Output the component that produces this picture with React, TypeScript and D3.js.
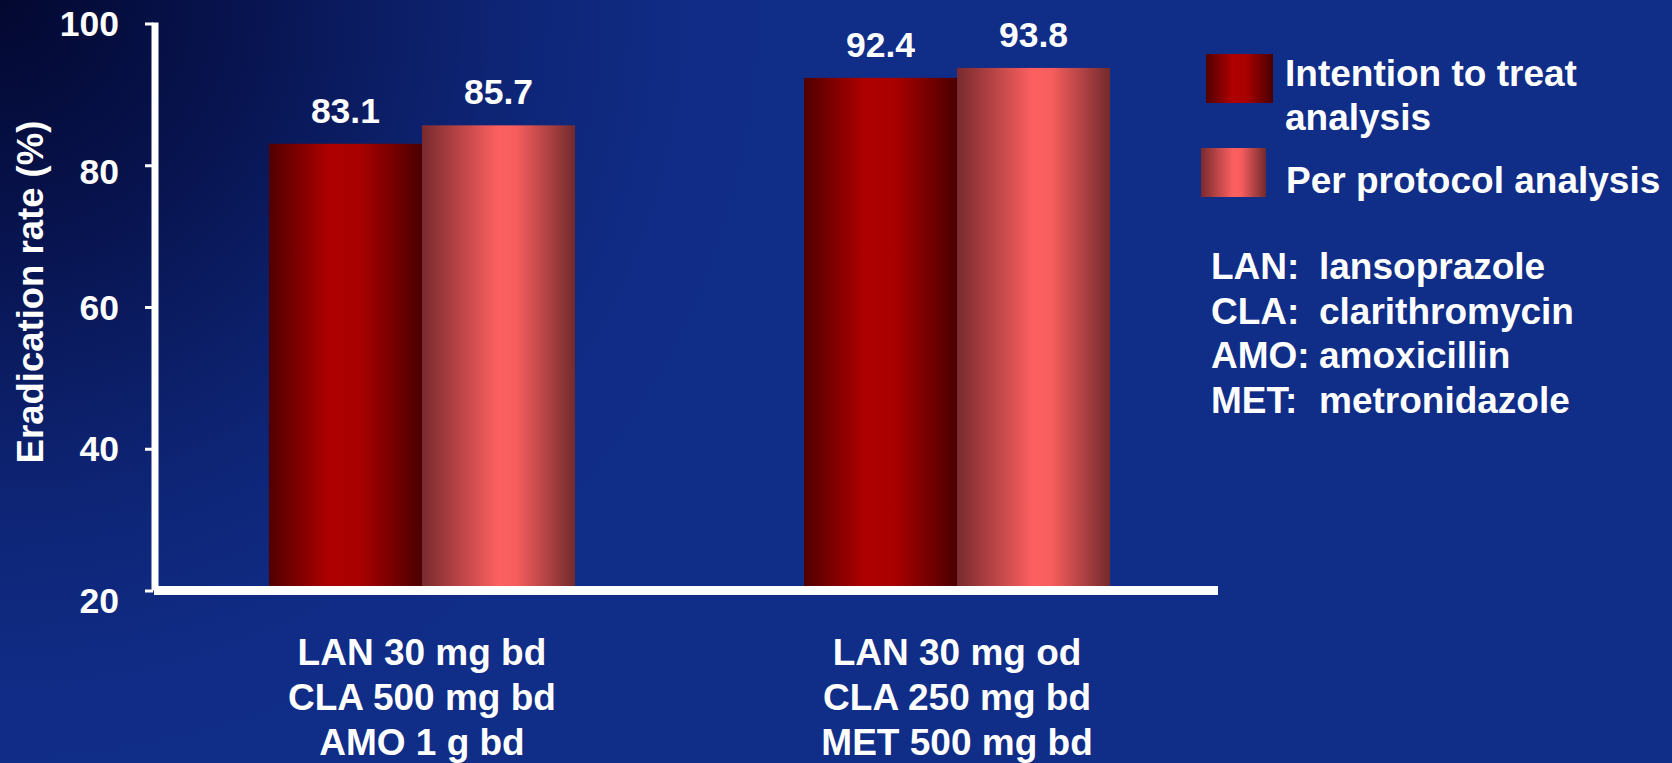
import React from "react";
import * as d3 from "d3";

const categories: string[][] = [
  ["LAN 30 mg bd", "CLA 500 mg bd", "AMO 1 g bd"],
  ["LAN 30 mg od", "CLA 250 mg bd", "MET 500 mg bd"],
];
const categoryKeys = ["g1", "g2"];
const seriesNames = ["Intention to treat analysis", "Per protocol analysis"];
const ittValues = [83.1, 92.4];
const ppValues = [85.7, 93.8];
const yTicks = [20, 40, 60, 80, 100];
const abbreviations = [
  ["LAN:", "lansoprazole"],
  ["CLA:", "clarithromycin"],
  ["AMO:", "amoxicillin"],
  ["MET:", "metronidazole"],
];

const W = 1672;
const H = 763;
const FONT = "'Liberation Sans', Arial, Helvetica, sans-serif";

export default function App() {
  const y = d3.scaleLinear().domain([20, 100]).range([591, 24]);
  const x0 = d3
    .scaleBand<string>()
    .domain(categoryKeys)
    .range([156, 1223])
    .paddingInner(0.428)
    .paddingOuter(0.211);
  const x1 = d3
    .scaleBand<string>()
    .domain(["itt", "pp"])
    .range([0, x0.bandwidth()]);

  const rows = categoryKeys.map((k, i) => ({
    key: k,
    label: categories[i],
    bars: [
      { s: "itt", v: ittValues[i], fill: "url(#gITT)" },
      { s: "pp", v: ppValues[i], fill: "url(#gPP)" },
    ],
  }));

  return (
    <div style={{ position: "absolute", left: 0, top: 0 }}>
      <svg width={W} height={H} style={{ display: "block" }} fontFamily={FONT}>
        <defs>
          <radialGradient id="bg" cx={0} cy={0} r={820} gradientUnits="userSpaceOnUse">
            <stop offset="0" stopColor="#030830" />
            <stop offset="0.3" stopColor="#081450" />
            <stop offset="0.62" stopColor="#0e2576" />
            <stop offset="0.85" stopColor="#102c86" />
            <stop offset="1" stopColor="#102d88" />
          </radialGradient>
          <linearGradient id="gITT" x1="0" y1="0" x2="1" y2="0">
            <stop offset="0" stopColor="#500000" />
            <stop offset="0.4" stopColor="#b00000" />
            <stop offset="0.6" stopColor="#a80000" />
            <stop offset="1" stopColor="#4a0000" />
          </linearGradient>
          <linearGradient id="gPP" x1="0" y1="0" x2="1" y2="0">
            <stop offset="0" stopColor="#782a2e" />
            <stop offset="0.5" stopColor="#fe6060" />
            <stop offset="0.62" stopColor="#f65d5d" />
            <stop offset="1" stopColor="#722a2d" />
          </linearGradient>
        </defs>
        <rect x={0} y={0} width={W} height={H} fill="#102d88" />
        <rect x={0} y={0} width={W} height={H} fill="url(#bg)" />

        {/* bars */}
        {rows.map((r) => (
          <g key={r.key} transform={`translate(${x0(r.key)},0)`}>
            {r.bars.map((b) => (
              <g key={b.s}>
                <rect
                  x={x1(b.s)}
                  y={y(b.v)}
                  width={x1.bandwidth()}
                  height={y(20) - y(b.v)}
                  fill={b.fill}
                />
                <text
                  x={(x1(b.s) as number) + x1.bandwidth() / 2}
                  y={y(b.v) - 21}
                  textAnchor="middle"
                  fill="#ffffff"
                  fontWeight="bold"
                  fontSize={35.5}
                >
                  {b.v.toFixed(1)}
                </text>
              </g>
            ))}
            {r.label.map((line, li) => (
              <text
                key={li}
                x={x0.bandwidth() / 2}
                y={665 + li * 45}
                textAnchor="middle"
                fill="#ffffff"
                fontWeight="bold"
                fontSize={37}
              >
                {line}
              </text>
            ))}
          </g>
        ))}

        {/* axes */}
        <rect x={151.5} y={22.5} width={7} height={568} fill="#ffffff" />
        <rect x={154} y={586} width={1064} height={9} fill="#ffffff" />
        {yTicks.map((t) => (
          <g key={t}>
            <rect x={145} y={y(t) - 1.5} width={8} height={3} fill="#ffffff" />
            <text
              x={119}
              y={y(t) + 12 + (t === 20 ? 10 : t === 80 ? 6 : 0)}
              textAnchor="end"
              fill="#ffffff"
              fontWeight="bold"
              fontSize={35.5}
            >
              {t}
            </text>
          </g>
        ))}
        <text
          transform={`translate(43,292) rotate(-90)`}
          textAnchor="middle"
          fill="#ffffff"
          fontWeight="bold"
          fontSize={36.5}
        >
          Eradication rate (%)
        </text>

        {/* legend */}
        <rect x={1206} y={54} width={67} height={49} fill="url(#gITT)" />
        <text x={1285} y={86} fill="#ffffff" fontWeight="bold" fontSize={37}>
          Intention to treat
        </text>
        <text x={1285} y={130} fill="#ffffff" fontWeight="bold" fontSize={37}>
          analysis
        </text>
        <rect x={1201} y={148} width={65} height={49} fill="url(#gPP)" />
        <text x={1286} y={193} fill="#ffffff" fontWeight="bold" fontSize={37}>
          {seriesNames[1]}
        </text>

        {abbreviations.map((a, i) => (
          <g key={a[0]}>
            <text x={1211} y={279 + i * 44.7} fill="#ffffff" fontWeight="bold" fontSize={37}>
              {a[0]}
            </text>
            <text x={1319} y={279 + i * 44.7} fill="#ffffff" fontWeight="bold" fontSize={37}>
              {a[1]}
            </text>
          </g>
        ))}
      </svg>
    </div>
  );
}
